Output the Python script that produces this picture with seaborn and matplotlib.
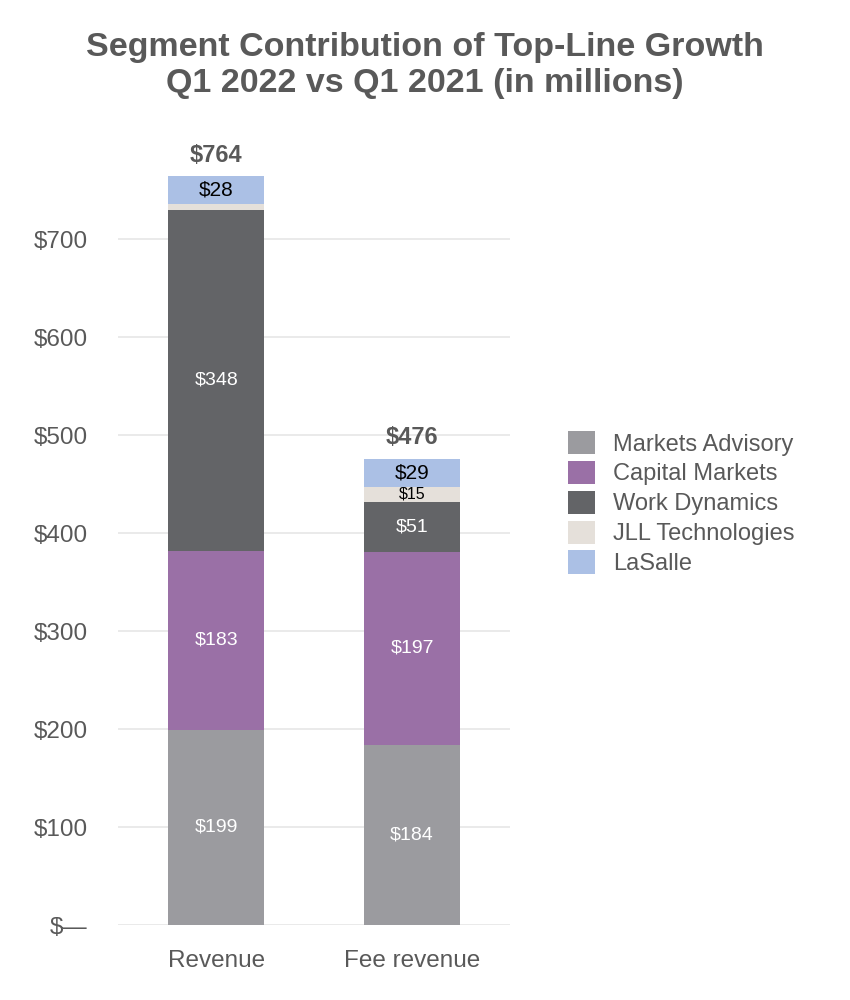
import numpy as np
import pandas as pd
import matplotlib
matplotlib.use('Agg')
import matplotlib.pyplot as plt
import seaborn as sns

# data (in $ millions)
categories = ['Revenue', 'Fee revenue']
segments = ['Markets Advisory', 'Capital Markets', 'Work Dynamics', 'JLL Technologies', 'LaSalle']
markets_advisory = [199, 184]
capital_markets = [183, 197]
work_dynamics = [348, 51]
jll_technologies = [6, 15]
lasalle = [28, 29]
totals = [764, 476]

colors = ['#9b9b9f', '#9a70a6', '#636467', '#e5e0da', '#abc0e5']
label_colors = ['white', 'white', 'white', 'black', 'black']
label_sizes = [14, 14, 14, 11.5, 15]

sns.set_style('white')
plt.rcParams['font.family'] = ['Liberation Sans', 'DejaVu Sans']
grey = '#595959'

values = [markets_advisory, capital_markets, work_dynamics, jll_technologies, lasalle]

fig = plt.figure(figsize=(8.5, 10), dpi=100)
ax = fig.add_axes([0.139, 0.075, 0.461, 0.784])

bottom = np.zeros(len(categories))
for seg, vals, col, lc, ls in zip(segments, values, colors, label_colors, label_sizes):
    df = pd.DataFrame({'category': categories, 'value': vals})
    sns.barplot(data=df, x='category', y='value', color=col, width=0.49,
                bottom=bottom, ax=ax, label=seg, saturation=1, errorbar=None,
                linewidth=0)
    for i, v in enumerate(vals):
        if v >= 10:
            ax.text(i, bottom[i] + v / 2, f'${v}', ha='center', va='center',
                    color=lc, fontsize=ls)
    bottom = bottom + np.array(vals)

# totals above each stack
for i, t in enumerate(totals):
    ax.annotate(f'${t}', (i, t), xytext=(0, 7), textcoords='offset points',
                ha='center', va='bottom', fontsize=17, fontweight='bold', color=grey)

ax.set_ylim(0, 800)
ax.set_xlim(-0.5, 1.5)
yt = list(range(0, 800, 100))
ax.set_yticks(yt)
ax.set_yticklabels(['$—'] + [f'${v}' for v in yt[1:]])
ax.grid(axis='y', color='#e6e6e6', linewidth=1.2)
ax.set_axisbelow(True)
for s in ax.spines.values():
    s.set_visible(False)
ax.tick_params(axis='both', length=0, labelsize=17.5, labelcolor=grey)
ax.tick_params(axis='y', pad=22)
ax.tick_params(axis='x', pad=18)
ax.set_xlabel('')
ax.set_ylabel('')

handles, labels = ax.get_legend_handles_labels()
if ax.get_legend() is not None:
    ax.get_legend().remove()
leg = fig.legend(handles, labels, loc='center left', bbox_to_anchor=(0.643, 0.497),
                 frameon=False, fontsize=17, handlelength=1.15, handleheight=1.15,
                 labelspacing=0.22, handletextpad=0.75)
for t in leg.get_texts():
    t.set_color(grey)

fig.suptitle('Segment Contribution of Top-Line Growth\nQ1 2022 vs Q1 2021 (in millions)',
             x=0.5, y=0.968, fontsize=24.5, fontweight='bold', color=grey, linespacing=1.22)

fig.savefig('out.png', dpi=100)
